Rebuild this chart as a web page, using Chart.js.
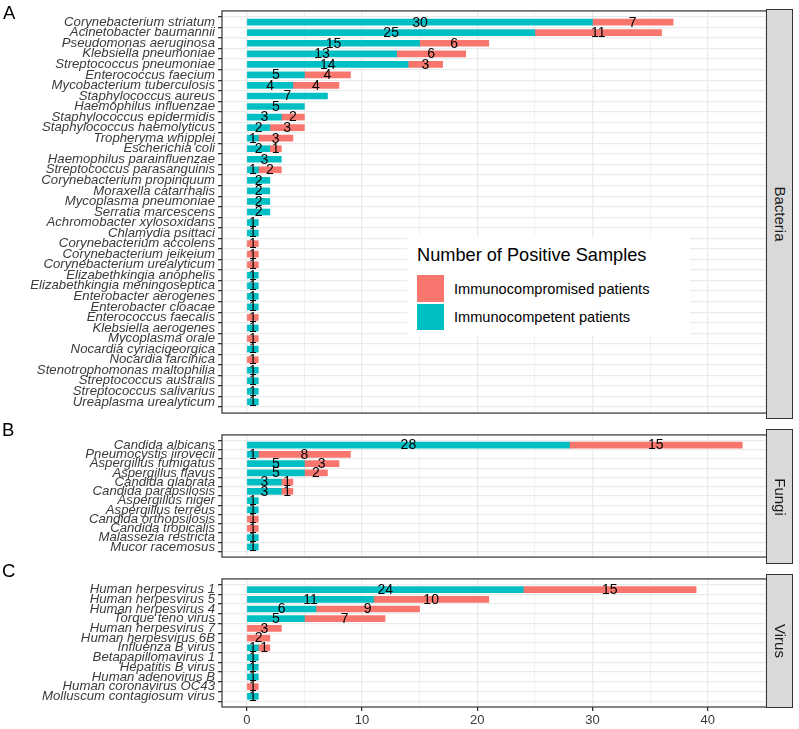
<!DOCTYPE html>
<html>
<head>
<meta charset="utf-8">
<script src="https://cdn.jsdelivr.net/npm/chart.js@4.4.1/dist/chart.umd.min.js"></script>
<style>
html,body{margin:0;padding:0;background:#fff;}
#wrap{position:relative;width:799px;height:729px;overflow:hidden;font-family:"Liberation Sans",Arial,sans-serif;background:#fff;}
canvas{position:absolute;left:0;}
.letter{position:absolute;font-size:18.5px;line-height:1;color:#000;}
.strip{position:absolute;left:766px;width:27px;background:#D9D9D9;border:1px solid #333;box-sizing:border-box;}
.strip span{position:absolute;left:50%;top:50%;transform:translate(-50%,-50%) rotate(90deg);font-size:15px;color:#1A1A1A;white-space:nowrap;}
#legend{position:absolute;left:407px;top:237px;width:283px;height:99px;background:#fff;}
#legend .ltitle{position:absolute;left:10px;top:8px;font-size:18.2px;line-height:20px;color:#000;white-space:nowrap;}
#legend .key{position:absolute;left:10px;width:27px;height:27px;}
#legend .ltext{position:absolute;left:47px;font-size:14.6px;line-height:16px;color:#000;white-space:nowrap;transform:translateY(-50%);}
</style>
</head>
<body>
<div id="wrap">
  <canvas id="cA" width="799" height="424" style="top:0px"></canvas>
  <canvas id="cB" width="799" height="144" style="top:424px"></canvas>
  <canvas id="cC" width="799" height="161" style="top:568px"></canvas>
  <div class="letter" style="left:3px;top:4px">A</div>
  <div class="letter" style="left:2px;top:421px">B</div>
  <div class="letter" style="left:2px;top:562px">C</div>
  <div class="strip" style="top:9px;height:410px"><span id="sA"></span></div>
  <div class="strip" style="top:429px;height:135px"><span id="sB"></span></div>
  <div class="strip" style="top:574px;height:134px"><span id="sC"></span></div>
  <div id="legend">
    <div class="ltitle" id="ltitle"></div>
    <div class="key" style="top:38px;background:#F8766D"></div>
    <div class="ltext" id="lt0" style="top:52px"></div>
    <div class="key" style="top:67px;height:26px;background:#00BFC4"></div>
    <div class="ltext" id="lt1" style="top:80px"></div>
  </div>
</div>
<script>
// ---------------- DATA ----------------
const panelNames = ['Bacteria', 'Fungi', 'Virus'];
const legendTitle = 'Number of Positive Samples';
const seriesNames = ['Immunocompromised patients', 'Immunocompetent patients'];

const bacteriaNames = [
  'Corynebacterium striatum','Acinetobacter baumannii','Pseudomonas aeruginosa','Klebsiella pneumoniae',
  'Streptococcus pneumoniae','Enterococcus faecium','Mycobacterium tuberculosis','Staphylococcus aureus',
  'Haemophilus influenzae','Staphylococcus epidermidis','Staphylococcus haemolyticus','Tropheryma whipplei',
  'Escherichia coli','Haemophilus parainfluenzae','Streptococcus parasanguinis','Corynebacterium propinquum',
  'Moraxella catarrhalis','Mycoplasma pneumoniae','Serratia marcescens','Achromobacter xylosoxidans',
  'Chlamydia psittaci','Corynebacterium accolens','Corynebacterium jeikeium','Corynebacterium urealyticum',
  'Elizabethkingia anophelis','Elizabethkingia meningoseptica','Enterobacter aerogenes','Enterobacter cloacae',
  'Enterococcus faecalis','Klebsiella aerogenes','Mycoplasma orale','Nocardia cyriacigeorgica',
  'Nocardia farcinica','Stenotrophomonas maltophilia','Streptococcus australis','Streptococcus salivarius',
  'Ureaplasma urealyticum'
];
const bacteriaCompetent   = [30,25,15,13,14,5,4,7,5,3,2,1,2,3,1,2,2,2,2,1,1,0,0,0,1,1,1,1,0,1,0,1,0,1,1,1,1];
const bacteriaCompromised = [7,11,6,6,3,4,4,0,0,2,3,3,1,0,2,0,0,0,0,0,0,1,1,1,0,0,0,0,1,0,1,0,1,0,0,0,0];

const fungiNames = [
  'Candida albicans','Pneumocystis jirovecii','Aspergillus fumigatus','Aspergillus flavus',
  'Candida glabrata','Candida parapsilosis','Aspergillus niger','Aspergillus terreus',
  'Candida orthopsilosis','Candida tropicalis','Malassezia restricta','Mucor racemosus'
];
const fungiCompetent   = [28,1,5,5,3,3,1,1,0,0,1,1];
const fungiCompromised = [15,8,3,2,1,1,0,0,1,1,0,0];

const virusNames = [
  'Human herpesvirus 1','Human herpesvirus 5','Human herpesvirus 4','Torque teno virus',
  'Human herpesvirus 7','Human herpesvirus 6B','Influenza B virus','Betapapillomavirus 1',
  'Hepatitis B virus','Human adenovirus B','Human coronavirus OC43','Molluscum contagiosum virus'
];
const virusCompetent   = [24,11,6,5,0,0,1,1,1,1,0,1];
const virusCompromised = [15,10,9,7,3,2,1,0,0,0,1,0];

const xTickValues = [0,5,10,15,20,25,30,35,40,45];
const X_MIN = -2.15, X_MAX = 45.15;

// ---------------- CHARTS ----------------
const FONT = '"Liberation Sans", Arial, sans-serif';
Chart.defaults.font.family = FONT;
const COL_COMPROMISED = '#F8766D', COL_COMPETENT = '#00BFC4';
const AXIS_TEXT = '#3A3A3A';

const valueLabels = {
  id: 'valueLabels',
  afterDatasetsDraw(chart) {
    const ctx = chart.ctx;
    ctx.save();
    ctx.font = '14px ' + FONT;
    ctx.fillStyle = '#000';
    ctx.textAlign = 'center';
    ctx.textBaseline = 'middle';
    chart.data.datasets.forEach((ds, i) => {
      const meta = chart.getDatasetMeta(i);
      meta.data.forEach((el, j) => {
        const v = ds.data[j].x;
        if (!v) return;
        ctx.fillText(String(v), (el.x + el.base) / 2, el.y + 0.5);
      });
    });
    ctx.restore();
  }
};

const panelBorder = {
  id: 'panelBorder',
  afterDraw(chart) {
    const a = chart.chartArea, ctx = chart.ctx;
    ctx.save();
    ctx.strokeStyle = '#333333';
    ctx.lineWidth = 1.2;
    ctx.strokeRect(a.left, a.top, a.right - a.left, a.bottom - a.top);
    ctx.restore();
  }
};

function makePanel(id, names, competent, compromised, padTop, padBottom, showX) {
  const toPts = arr => arr.map((v, i) => ({ x: v === 0 ? null : v, y: i }));
  return new Chart(document.getElementById(id), {
    type: 'bar',
    data: {
      datasets: [
        { label: seriesNames[1], data: toPts(competent), backgroundColor: COL_COMPETENT, barThickness: 6, borderWidth: 0 },
        { label: seriesNames[0], data: toPts(compromised), backgroundColor: COL_COMPROMISED, barThickness: 6, borderWidth: 0 }
      ]
    },
    options: {
      indexAxis: 'y',
      responsive: false,
      animation: false,
      layout: { padding: { top: padTop, bottom: padBottom, left: 0, right: 32 } },
      plugins: { legend: { display: false }, tooltip: { enabled: false } },
      scales: {
        x: {
          type: 'linear', min: X_MIN, max: X_MAX, stacked: true,
          afterBuildTicks(s) { s.ticks = xTickValues.map(v => ({ value: v })); },
          afterFit(s) { s.height = showX ? 22 : 0; },
          ticks: {
            display: showX, autoSkip: false, maxRotation: 0, padding: 2,
            color: AXIS_TEXT, font: { size: 13 },
            callback: v => (v % 10 === 0 ? String(v) : '')
          },
          grid: {
            color: '#EBEBEB',
            lineWidth: c => (c.tick && c.tick.value % 10 === 0 ? 1.3 : 0.7),
            drawTicks: showX, tickLength: 4,
            tickColor: c => (c.tick && c.tick.value % 10 === 0 ? '#333333' : 'rgba(0,0,0,0)')
          },
          border: { display: false }
        },
        y: {
          type: 'linear', reverse: true, min: -0.55, max: names.length - 0.45, stacked: true,
          afterBuildTicks(s) { s.ticks = names.map((_, i) => ({ value: i })); },
          afterFit(s) { s.width = 222; },
          ticks: {
            autoSkip: false, padding: 3, color: AXIS_TEXT,
            font: { size: 13.2, style: 'italic' },
            callback: v => names[v]
          },
          grid: { color: '#EBEBEB', lineWidth: 1.3, drawTicks: true, tickLength: 4, tickColor: '#333333' },
          border: { display: false }
        }
      }
    },
    plugins: [valueLabels, panelBorder]
  });
}

makePanel('cA', bacteriaNames, bacteriaCompetent, bacteriaCompromised, 9, 5, false);
makePanel('cB', fungiNames, fungiCompetent, fungiCompromised, 5, 4.7, false);
makePanel('cC', virusNames, virusCompetent, virusCompromised, 6, 0, true);

document.getElementById('sA').textContent = panelNames[0];
document.getElementById('sB').textContent = panelNames[1];
document.getElementById('sC').textContent = panelNames[2];
document.getElementById('ltitle').textContent = legendTitle;
document.getElementById('lt0').textContent = seriesNames[0];
document.getElementById('lt1').textContent = seriesNames[1];
</script>
</body>
</html>
